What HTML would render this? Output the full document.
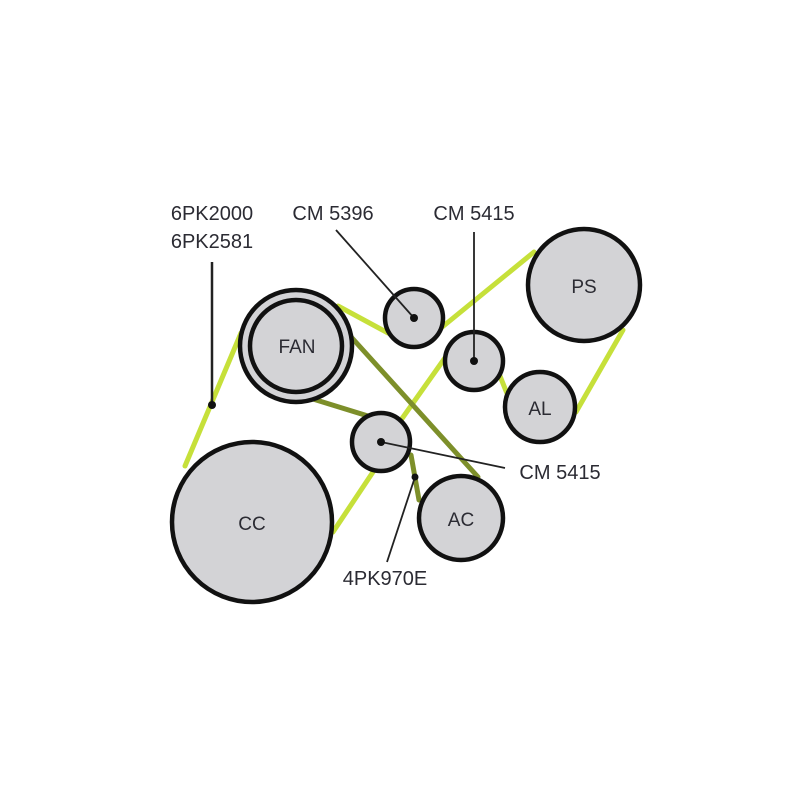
<!DOCTYPE html>
<html><head><meta charset="utf-8"><style>
html,body{margin:0;padding:0;background:#fff;}
svg{display:block;}
text{font-family:"Liberation Sans",sans-serif;fill:#2b2b33;}
</style></head><body>
<svg width="800" height="800" viewBox="0 0 800 800" xmlns="http://www.w3.org/2000/svg">
<!-- yellow belts -->
<g stroke="#c6e03a" stroke-width="5" stroke-linecap="round">
<line x1="185" y1="466" x2="241" y2="333"/>
<line x1="338" y1="306" x2="388" y2="333"/>
<line x1="441" y1="328" x2="534" y2="252"/>
<line x1="401" y1="420" x2="447" y2="355"/>
<line x1="500" y1="376" x2="508" y2="396"/>
<line x1="576" y1="412" x2="623" y2="330"/>
<line x1="333" y1="532" x2="373" y2="472"/>
</g>
<!-- olive belts -->
<g stroke="#7d8f2a" stroke-width="5" stroke-linecap="round">
<line x1="300" y1="395" x2="368" y2="416"/>
<line x1="343" y1="328" x2="478" y2="477"/>
<line x1="411" y1="455" x2="419" y2="500"/>
</g>
<!-- pulleys -->
<g stroke="#111" stroke-width="4.5" fill="#d3d3d6">
<circle cx="252" cy="522" r="80"/>
<circle cx="296" cy="346" r="56"/>
<circle cx="296" cy="346" r="46"/>
<circle cx="414" cy="318" r="29"/>
<circle cx="474" cy="361" r="29"/>
<circle cx="584" cy="285" r="56"/>
<circle cx="540" cy="407" r="35"/>
<circle cx="381" cy="442" r="29"/>
<circle cx="461" cy="518" r="42"/>
</g>
<!-- pointers -->
<g stroke="#222" stroke-width="1.8">
<line x1="212" y1="262" x2="212" y2="405" stroke-width="2.5"/>
<line x1="336" y1="230" x2="414" y2="318"/>
<line x1="474" y1="232" x2="474" y2="361"/>
<line x1="381" y1="442" x2="505" y2="468"/>
<line x1="415" y1="477" x2="387" y2="562"/>
</g>
<g fill="#111">
<circle cx="212" cy="405" r="4"/>
<circle cx="414" cy="318" r="4"/>
<circle cx="474" cy="361" r="4"/>
<circle cx="381" cy="442" r="4"/>
<circle cx="415" cy="477" r="3.5"/>
</g>
<!-- labels -->
<g font-size="20" text-anchor="middle">
<text x="212" y="220">6PK2000</text>
<text x="212" y="248">6PK2581</text>
<text x="333" y="220">CM 5396</text>
<text x="474" y="220">CM 5415</text>
<text x="560" y="479">CM 5415</text>
<text x="385" y="585">4PK970E</text>
</g>
<g font-size="19" text-anchor="middle">
<text x="297" y="353">FAN</text>
<text x="584" y="293">PS</text>
<text x="540" y="415">AL</text>
<text x="461" y="526">AC</text>
<text x="252" y="530">CC</text>
</g>
</svg>
</body></html>
